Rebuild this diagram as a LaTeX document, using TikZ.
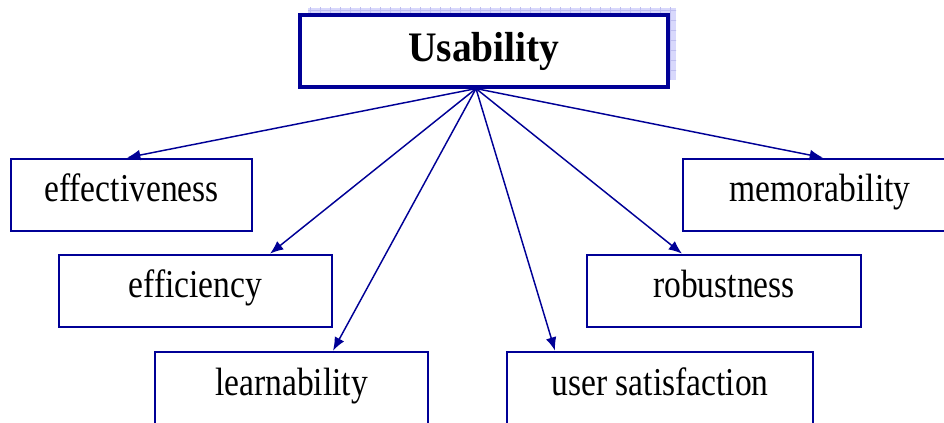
\documentclass[tikz,border=0pt]{standalone}
\usepackage{fontspec}
\usepackage{graphicx}
\setmainfont{Liberation Serif}
\usetikzlibrary{arrows.meta,calc}
\definecolor{navy}{RGB}{0,0,150}
\definecolor{shadowfill}{RGB}{216,216,252}
\definecolor{shadowgrid}{RGB}{190,190,240}
% slightly condensed label text
\newcommand{\boxtext}[1]{\scalebox{0.85}[1]{#1}}
\begin{document}
\begin{tikzpicture}[x=0.75pt,y=-0.75pt,
  itembox/.style={draw=navy, line width=2pt, fill=white,
    minimum width=#1, minimum height=54pt, inner sep=0pt,
    text height=20pt, text depth=9.5pt,
    font=\fontsize{29.6pt}{34pt}\selectfont},
  link/.style={navy, line width=1.1pt, -{Latex[length=10pt,width=8pt]}}]
\useasboundingbox (0,0) rectangle (944,423);
\clip (0,0) rectangle (944,423);

% gridded drop shadow behind the title box
\begin{scope}
  \clip (308,8) rectangle (676,80);
  \fill[shadowfill] (308,8) rectangle (676,80);
  \draw[shadowgrid, line width=0.5pt, step=7.5pt] (300,0) grid (690,90);
\end{scope}

% title
\node[itembox=276pt, line width=2.4pt, text height=24pt, text depth=7.5pt,
      font=\bfseries\fontsize{31.5pt}{36pt}\selectfont]
  (usab) at (484,51) {\scalebox{0.94}[1]{Usability}};

% attributes
\node[itembox=180.75pt] (effect)  at (131.5,195) {\boxtext{effectiveness}};
\node[itembox=204.75pt] (effic)   at (195.5,291) {\boxtext{efficiency}};
\node[itembox=204.75pt] (learn)   at (291.5,388) {\boxtext{learnability}};
\node[itembox=229.5pt]  (usersat) at (660,388)   {\boxtext{user satisfaction}};
\node[itembox=205.5pt]  (robust)  at (724,291)   {\boxtext{robustness}};
\node[itembox=205.5pt]  (memor)   at (820,195)   {\boxtext{memorability}};

% fan of arrows from one point under the title
\coordinate (hub) at ($(usab.south)+(-8,0)$);
\draw[link] (hub) -- (127,0 |- effect.north);
\draw[link] (hub) -- (270,0 |- effic.north);
\draw[link] (hub) -- (333,0 |- learn.north);
\draw[link] (hub) -- (555,0 |- usersat.north);
\draw[link] (hub) -- (682,0 |- robust.north);
\draw[link] (hub) -- (823,0 |- memor.north);
\end{tikzpicture}
\end{document}
